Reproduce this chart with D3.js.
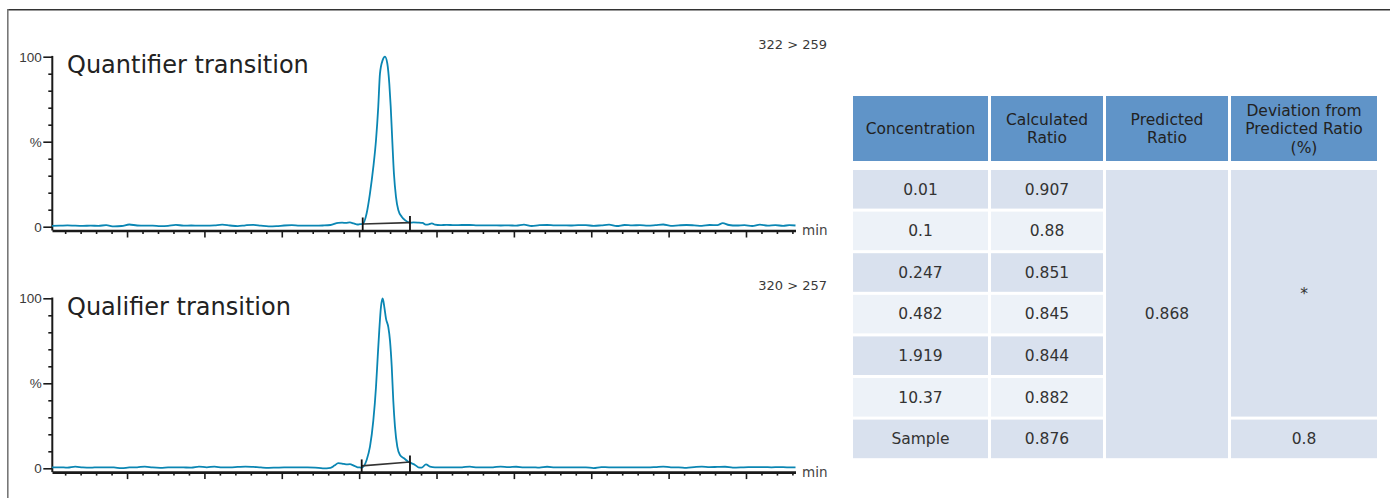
<!DOCTYPE html>
<html><head><meta charset="utf-8">
<script src="https://cdn.jsdelivr.net/npm/d3@7"></script>
<style>
html,body{margin:0;padding:0;background:#fff;}
svg{display:block;}
text{font-family:"DejaVu Sans",Verdana,sans-serif;}
</style></head>
<body>
<svg id="c" width="1390" height="498"></svg>
<script>
// ---------- DATA ----------
// Quantifier transition trace: [time (min), intensity (%)]
const quantTrace = [
[0.03,0.5],[0.13,0.6],[0.23,0.8],[0.33,0.6],[0.43,0.5],[0.53,0.6],[0.63,0.5],[0.73,0.9],[0.83,0.2],[0.93,0.4],
[1.03,1.3],[1.13,0.7],[1.23,0.6],[1.33,0.6],[1.43,0.3],[1.53,0.5],[1.63,1.1],[1.73,0.6],[1.83,0.7],[1.93,0.6],
[2.03,0.6],[2.13,0.8],[2.23,1.2],[2.33,0.7],[2.43,0.3],[2.53,0.8],[2.63,1.1],[2.73,0.6],[2.83,0.2],[2.93,0.3],
[3.03,0.7],[3.13,0.9],[3.23,0.6],[3.33,0.6],[3.43,0.6],[3.53,0.7],[3.63,1.0],[3.73,2.3],[3.78,2.4],[3.83,2.2],
[3.88,2.5],[3.93,1.9],[3.98,1.3],[4.01,1.5],
[4.046,1.6],[4.097,7.9],[4.140,19.6],[4.183,35],[4.218,51],[4.247,70.6],[4.269,90],[4.304,98],[4.334,100],
[4.364,96],[4.390,84],[4.408,70.6],[4.428,51],[4.450,31],[4.476,17.6],[4.506,9.8],[4.550,5.9],[4.592,3.9],[4.657,2.4],
[4.70,2.5],[4.76,2.4],[4.82,2.2],[4.86,1.2],[4.90,1.4],[4.94,2.0],[4.98,1.2],[5.05,0.9],[5.13,1.1],[5.23,0.9],
[5.33,1.0],[5.43,1.0],[5.53,0.8],[5.63,0.8],[5.73,0.8],[5.83,0.7],[5.93,0.8],[6.03,0.6],[6.13,1.2],[6.23,0.4],
[6.33,0.9],[6.43,1.0],[6.53,0.8],[6.63,0.8],[6.73,0.7],[6.83,0.9],[6.93,0.9],[7.03,0.5],[7.13,0.8],[7.23,1.2],
[7.33,0.4],[7.43,1.0],[7.53,0.8],[7.63,0.9],[7.73,0.6],[7.83,0.9],[7.93,1.3],[8.03,0.5],[8.13,0.8],[8.23,1.0],
[8.33,0.8],[8.43,0.5],[8.53,1.0],[8.63,0.9],[8.70,2.1],[8.78,1.0],[8.88,0.7],[8.98,0.9],[9.08,0.4],[9.18,1.2],
[9.28,0.6],[9.38,0.9],[9.48,0.5],[9.56,0.9],[9.64,0.7]
];
// Qualifier transition trace: [time (min), intensity (%)]
const qualTrace = [
[0.03,0.5],[0.13,0.6],[0.23,0.4],[0.33,1.0],[0.43,0.5],[0.53,0.4],[0.63,0.6],[0.73,0.6],[0.83,0.5],[0.93,0.1],
[1.03,0.5],[1.13,0.6],[1.23,1.0],[1.33,0.5],[1.43,0.3],[1.53,0.5],[1.63,0.6],[1.73,0.5],[1.83,0.4],[1.93,1.0],
[2.03,0.6],[2.13,1.0],[2.23,0.5],[2.33,0.6],[2.43,0.8],[2.53,1.0],[2.63,0.8],[2.73,0.5],[2.83,0.3],[2.93,0.4],
[3.03,0.5],[3.13,0.5],[3.23,0.5],[3.33,0.5],[3.43,0.4],[3.53,0.0],[3.63,0.3],[3.68,1.6],[3.73,3.0],[3.78,2.8],
[3.83,2.3],[3.88,2.4],[3.93,1.6],[3.98,0.6],[4.01,0.5],
[4.033,0.4],[4.097,4.9],[4.140,12.7],[4.183,28],[4.218,48],[4.240,65.6],[4.260,81],[4.282,95],[4.304,100],
[4.325,95],[4.347,88],[4.377,83],[4.399,75],[4.421,60],[4.441,40],[4.463,24.5],[4.493,12.7],[4.528,7.8],
[4.580,5.9],[4.635,3.9],[4.679,2.9],[4.722,2.0],[4.764,0.6],[4.808,0.4],[4.864,2.3],[4.915,1.0],
[4.98,0.6],[5.05,0.6],[5.13,0.5],[5.23,0.5],[5.33,0.6],[5.43,1.0],[5.53,0.5],[5.63,0.5],[5.73,0.6],[5.83,1.0],
[5.93,0.7],[6.03,0.9],[6.13,0.5],[6.23,0.6],[6.33,0.4],[6.43,0.9],[6.53,0.6],[6.63,0.6],[6.73,0.6],[6.83,0.5],
[6.93,0.6],[7.03,0.1],[7.13,0.7],[7.23,0.6],[7.33,0.6],[7.43,0.6],[7.53,0.5],[7.63,0.6],[7.73,0.5],[7.83,0.7],
[7.93,1.0],[8.03,0.6],[8.13,0.6],[8.23,0.3],[8.33,0.7],[8.43,1.0],[8.53,0.7],[8.63,0.8],[8.73,0.9],[8.83,0.4],
[8.93,0.5],[9.03,0.7],[9.13,0.7],[9.23,0.7],[9.33,0.6],[9.43,0.7],[9.53,0.6],[9.64,0.6]
];
// integration baselines: [[startTime, level%], [endTime, level%]]
const quantIntegration = [[4.046,1.6],[4.657,2.4]];
const qualIntegration  = [[4.033,1.4],[4.657,3.7]];
const panelTitles = ["Quantifier transition","Qualifier transition"];
const transitions = ["322 > 259","320 > 257"];
const yTickLabels = {0:"0",50:"%",100:"100"};
const xAxisUnit = "min";

// table
const tableHeaders = [["Concentration"],["Calculated","Ratio"],["Predicted","Ratio"],["Deviation from","Predicted Ratio","(%)"]];
const concentrations = ["0.01","0.1","0.247","0.482","1.919","10.37","Sample"];
const calculatedRatios = ["0.907","0.88","0.851","0.845","0.844","0.882","0.876"];
const predictedRatio = "0.868";
const deviationCalibrators = "*";
const deviationSample = "0.8";

// ---------- DRAW ----------
const svg = d3.select("#c");
const TRACE = "#0a86b3";

// frame
svg.append("line").attr("x1",7).attr("x2",1390).attr("y1",9.5).attr("y2",9.5).attr("stroke","#333").attr("stroke-width",1);
svg.append("line").attr("x1",7).attr("x2",1390).attr("y1",10.5).attr("y2",10.5).attr("stroke","#999").attr("stroke-width",1);
svg.append("line").attr("x1",7.8).attr("x2",7.8).attr("y1",9).attr("y2",498).attr("stroke","#777").attr("stroke-width",1.6);

const x = d3.scaleLinear().domain([0.03,9.64]).range([52,795.5]);
const xTicks = d3.range(1,49).map(i=>i/5);

function panel(trace, integ, title, trans, y0, y100){
  const g = svg.append("g");
  const y = d3.scaleLinear().domain([0,100]).range([y0,y100]);
  const axisY = y0 + 3.8;

  // y axis
  const ya = d3.axisLeft(y).tickValues(d3.range(0,101,10)).tickSize(4).tickSizeOuter(0)
     .tickFormat(d=> yTickLabels[d]!==undefined ? yTickLabels[d] : "");
  const yg = g.append("g").attr("transform","translate(52.3,0)").call(ya);
  yg.select(".domain").remove();
  yg.selectAll(".tick line").attr("stroke","#1a1a1a").attr("stroke-width",1.6)
    .attr("x2",d=> d%50===0 ? -9 : -4);
  yg.selectAll(".tick text").attr("x",-10.5).attr("fill","#3a3a3a")
    .style("font-size","13.5px").style("font-family","'Liberation Sans',Arial,sans-serif");
  g.append("line").attr("x1",52.3).attr("x2",52.3).attr("y1",y(100)-0.8).attr("y2",axisY)
    .attr("stroke","#1a1a1a").attr("stroke-width",2);

  // x axis
  const xa = d3.axisBottom(x).tickValues(xTicks).tickSize(3).tickSizeOuter(0).tickFormat("");
  const xg = g.append("g").attr("transform",`translate(0,${axisY})`).call(xa);
  xg.select(".domain").attr("stroke","#1a1a1a").attr("stroke-width",2.6);
  xg.selectAll(".tick line").attr("stroke","#1a1a1a").attr("stroke-width",1.6)
    .attr("y2",d=> Math.abs(d-Math.round(d))<1e-6 ? 7 : 3.5);
  g.append("text").attr("x",802).attr("y",axisY+4.5).text(xAxisUnit)
    .attr("fill","#444").style("font-size","13.5px");

  // trace
  const line = d3.line().x(d=>x(d[0])).y(d=>y(d[1])).curve(d3.curveMonotoneX);
  g.append("path").datum(trace).attr("d",line).attr("fill","none")
    .attr("stroke",TRACE).attr("stroke-width",1.8).attr("stroke-linejoin","round");

  // integration baseline and markers
  g.append("line").attr("x1",x(integ[0][0])).attr("y1",y(integ[0][1]))
    .attr("x2",x(integ[1][0])).attr("y2",y(integ[1][1]))
    .attr("stroke","#333").attr("stroke-width",1.6);
  integ.forEach(p=>{
    g.append("line").attr("x1",x(p[0])).attr("x2",x(p[0]))
      .attr("y1",y(p[1])-6.5).attr("y2",axisY)
      .attr("stroke","#111").attr("stroke-width",1.8);
  });

  // labels
  g.append("text").attr("x",67).attr("y",y100+16.5).text(title)
    .attr("fill","#222").style("font-size","24px");
  g.append("text").attr("x",827).attr("y",y100-8).attr("text-anchor","end").text(trans)
    .attr("fill","#3a3a3a").style("font-size","13px");
}

panel(quantTrace, quantIntegration, panelTitles[0], transitions[0], 226.7, 56.7);
panel(qualTrace, qualIntegration, panelTitles[1], transitions[1], 468.3, 298.3);

// ---------- TABLE ----------
const colX = [853, 991, 1106, 1231];
const colW = [135, 112, 122, 146];
const headTop = 96, headH = 65;
const bodyTop = 170, rowStep = 41.6, rowH = 38.6;
const DARK = "#d9e1ee", LIGHT = "#edf2f8", HEAD = "#6094c8";
const tg = svg.append("g").style("font-size","15.5px");

tableHeaders.forEach((lines,i)=>{
  tg.append("rect").attr("x",colX[i]).attr("y",headTop).attr("width",colW[i]).attr("height",headH).attr("fill",HEAD);
  const cy = headTop + headH/2;
  const lh = 18.5;
  lines.forEach((s,j)=>{
    tg.append("text").attr("x",colX[i]+colW[i]/2)
      .attr("y",cy + (j-(lines.length-1)/2)*lh).attr("dy","0.36em")
      .attr("text-anchor","middle").attr("fill","#222").text(s);
  });
});

const rowY = i => bodyTop + i*rowStep;
concentrations.forEach((c,i)=>{
  const fill = i%2===0 ? DARK : LIGHT;
  [c, calculatedRatios[i]].forEach((s,k)=>{
    tg.append("rect").attr("x",colX[k]).attr("y",rowY(i)).attr("width",colW[k]).attr("height",rowH).attr("fill",fill);
    tg.append("text").attr("x",colX[k]+colW[k]/2).attr("y",rowY(i)+rowH/2).attr("dy","0.34em")
      .attr("text-anchor","middle").attr("fill","#333").text(s);
  });
});
const n = concentrations.length;
const bodyBottom = rowY(n-1)+rowH;
// predicted ratio merged cell
tg.append("rect").attr("x",colX[2]).attr("y",bodyTop).attr("width",colW[2]).attr("height",bodyBottom-bodyTop).attr("fill",DARK);
tg.append("text").attr("x",colX[2]+colW[2]/2).attr("y",(bodyTop+bodyBottom)/2).attr("dy","0.34em")
  .attr("text-anchor","middle").attr("fill","#333").text(predictedRatio);
// deviation cells
const devBottom = rowY(n-2)+rowH;
tg.append("rect").attr("x",colX[3]).attr("y",bodyTop).attr("width",colW[3]).attr("height",devBottom-bodyTop).attr("fill",DARK);
tg.append("text").attr("x",colX[3]+colW[3]/2).attr("y",(bodyTop+devBottom)/2).attr("dy","0.34em")
  .attr("text-anchor","middle").attr("fill","#333").text(deviationCalibrators);
tg.append("rect").attr("x",colX[3]).attr("y",rowY(n-1)).attr("width",colW[3]).attr("height",rowH).attr("fill",DARK);
tg.append("text").attr("x",colX[3]+colW[3]/2).attr("y",rowY(n-1)+rowH/2).attr("dy","0.34em")
  .attr("text-anchor","middle").attr("fill","#333").text(deviationSample);
</script>
</body></html>
